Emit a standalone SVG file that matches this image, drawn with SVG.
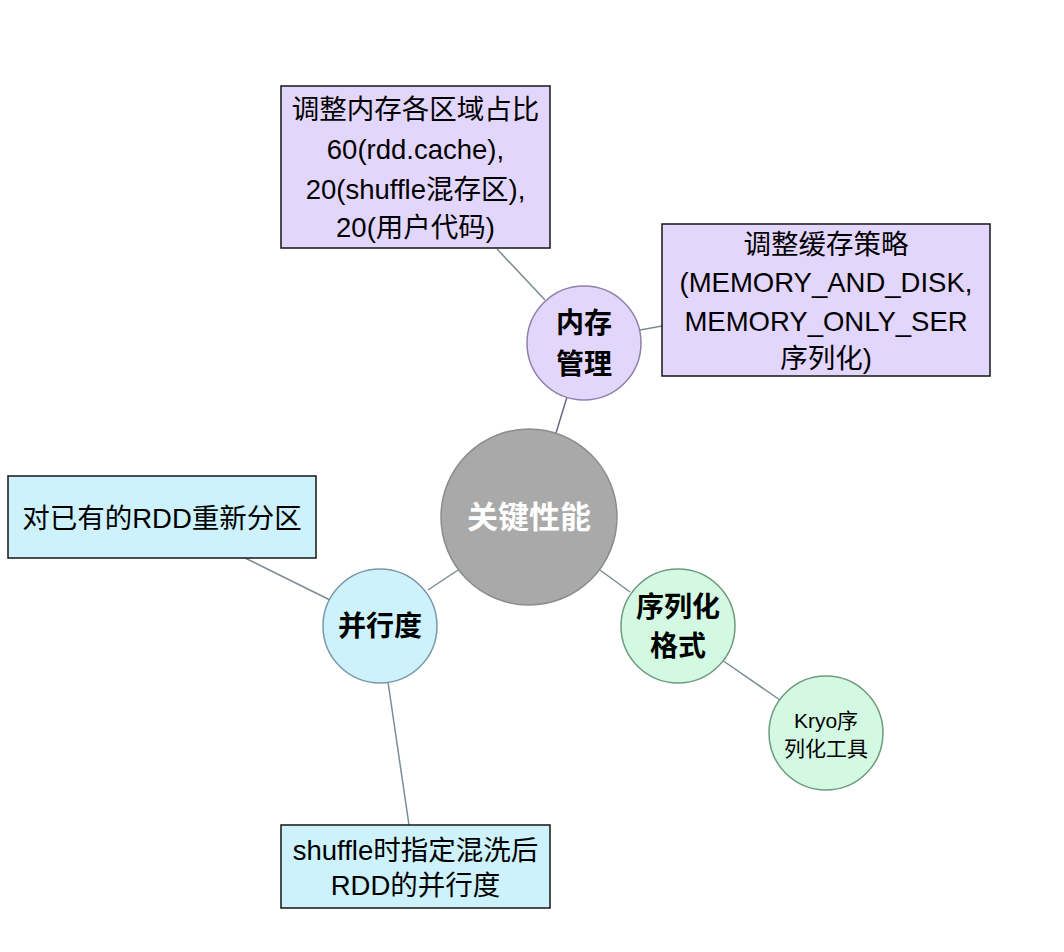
<svg xmlns="http://www.w3.org/2000/svg" width="1064" height="952" viewBox="0 0 1064 952">
<style>
text{font-family:"Liberation Sans","Noto Sans CJK SC",sans-serif;text-anchor:middle;dominant-baseline:central;fill:#000}
.box{stroke:#222;stroke-width:1.6}
.pu{fill:#e3d6fc}
.bl{fill:#cdf2fc}
.gr{fill:#d3f9e3}
.cpu{fill:#e3d6fc;stroke:#8e80aa;stroke-width:1.5}
.cbl{fill:#cdf2fc;stroke:#7a98a6;stroke-width:1.5}
.cgr{fill:#d3f9e3;stroke:#6e9a7e;stroke-width:1.5}
.t{font-size:27.5px}
.b{font-size:28px;font-weight:bold}
.s{font-size:21px}
#connectors line{stroke:#7a8c94;stroke-width:1.5}
</style>
<rect width="1064" height="952" fill="#fff"/>
<g id="connectors">
<line x1="556" y1="433" x2="567" y2="397" style="stroke:#6e6488"/>
<line x1="497" y1="249" x2="545" y2="300"/>
<line x1="640" y1="330" x2="662" y2="326"/>
<line x1="458" y1="570" x2="428" y2="590"/>
<line x1="330" y1="600" x2="245" y2="558"/>
<line x1="388" y1="682" x2="409" y2="825"/>
<line x1="600" y1="570" x2="630" y2="592"/>
<line x1="722" y1="660" x2="780" y2="700"/>
</g>
<g id="center">
<circle cx="529" cy="517" r="88" fill="#a9a9a9" stroke="#8c8c8c" stroke-width="1.5"/>
<text x="529" y="517" style="font-size:31px;font-weight:bold;fill:#fff">关键性能</text>
</g>
<g id="mem">
<circle class="cpu" cx="584" cy="343" r="57"/>
<text class="b" x="584" y="323">内存</text>
<text class="b" x="584" y="364">管理</text>
</g>
<g id="mem-ratio">
<rect class="box pu" x="281" y="86" width="269" height="162"/>
<text class="t" x="415.5" y="109">调整内存各区域占比</text>
<text class="t" x="415.5" y="149">60(rdd.cache),</text>
<text class="t" x="415.5" y="189">20(shuffle混存区),</text>
<text class="t" x="415.5" y="227">20(用户代码)</text>
</g>
<g id="mem-cache">
<rect class="box pu" x="662" y="224" width="328" height="152"/>
<text class="t" x="826" y="244">调整缓存策略</text>
<text class="t" x="826" y="282">(MEMORY_AND_DISK,</text>
<text class="t" x="826" y="321">MEMORY_ONLY_SER</text>
<text class="t" x="826" y="358">序列化)</text>
</g>
<g id="par">
<circle class="cbl" cx="380" cy="626" r="57"/>
<text class="b" x="380" y="626">并行度</text>
</g>
<g id="par-repart">
<rect class="box bl" x="8" y="476" width="308" height="82"/>
<text class="t" x="162" y="518">对已有的RDD重新分区</text>
</g>
<g id="par-shuffle">
<rect class="box bl" x="281" y="825" width="269" height="83"/>
<text class="t" x="415.5" y="850">shuffle时指定混洗后</text>
<text class="t" x="415.5" y="885">RDD的并行度</text>
</g>
<g id="ser">
<circle class="cgr" cx="678" cy="626" r="57"/>
<text class="b" x="678" y="607">序列化</text>
<text class="b" x="678" y="646">格式</text>
</g>
<g id="kryo">
<circle class="cgr" cx="826" cy="733" r="57"/>
<text class="s" x="826" y="720">Kryo序</text>
<text class="s" x="826" y="748">列化工具</text>
</g>
</svg>
